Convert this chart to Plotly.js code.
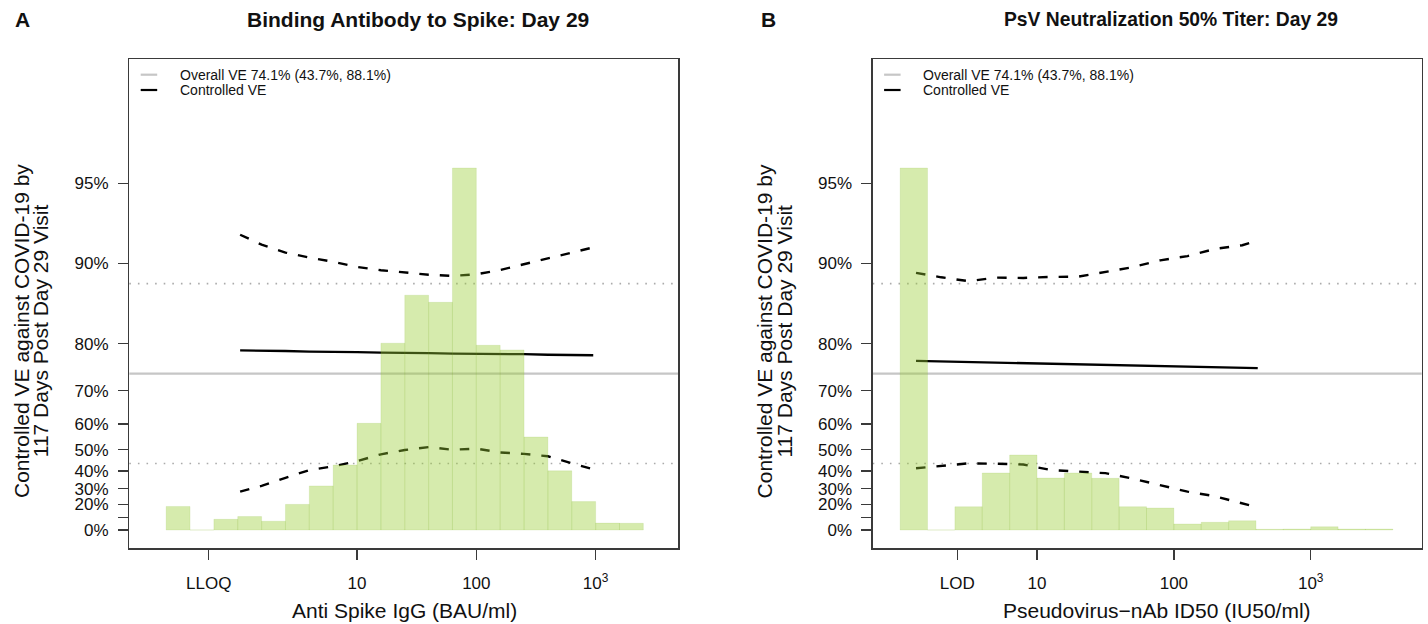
<!DOCTYPE html>
<html>
<head>
<meta charset="utf-8">
<script src="https://cdn.plot.ly/plotly-3.0.1.min.js"></script>
<style>
  html, body { margin: 0; padding: 0; background: #fff; }
  #chart { width: 1428px; height: 624px; }
</style>
</head>
<body>
<div id="chart"></div>
<script>
// ---- Panel A: binding antibody to Spike, Day 29 (marker on log10 BAU/ml) ----
const spikeLog10 = [0.02, 0.2, 0.4, 0.6, 0.8, 1.0, 1.2, 1.4, 1.6, 1.8, 2.0, 2.2, 2.4, 2.6, 2.8, 2.98];
const spikeVE      = [78.8, 78.8, 78.7, 78.6, 78.6, 78.5, 78.4, 78.4, 78.3, 78.2, 78.2, 78.1, 78.1, 78.0, 77.9, 77.9];
const spikeVEUpper = [92.2, 91.5, 90.9, 90.5, 90.15, 89.7, 89.4, 89.17, 88.98, 88.87, 89.02, 89.42, 89.94, 90.43, 90.93, 91.3];
const spikeVELower = [28.2, 31.7, 36.3, 40.4, 42.3, 44.85, 48.0, 49.9, 51.15, 50.0, 50.5, 48.8, 48.2, 47.1, 43.8, 40.8];
const spikeBinStart = [-0.6, -0.4, -0.2, 0.0, 0.2, 0.4, 0.6, 0.8, 1.0, 1.2, 1.4, 1.6, 1.8, 2.0, 2.2, 2.4, 2.6, 2.8, 3.0, 3.2];
const spikeBinPct   = [1.26, 0, 0.57, 0.72, 0.47, 1.37, 2.36, 3.48, 5.71, 10.0, 12.57, 12.19, 19.38, 9.89, 9.64, 4.98, 3.17, 1.52, 0.37, 0.36];
const spikeLLOQ = 0.571;

// ---- Panel B: pseudovirus neutralization ID50, Day 29 (marker on log10 IU50/ml) ----
const id50Log10 = [0.116, 0.3, 0.5, 0.7, 0.9, 1.1, 1.3, 1.5, 1.7, 1.9, 2.1, 2.3, 2.5, 2.613];
const id50VE      = [76.8, 76.7, 76.6, 76.5, 76.4, 76.2, 76.1, 76.0, 75.9, 75.8, 75.6, 75.5, 75.4, 75.3];
const id50VEUpper = [89.15, 88.73, 88.35, 88.7, 88.67, 88.77, 88.79, 89.25, 89.68, 90.27, 90.62, 91.18, 91.46, 91.8];
const id50VELower = [41.35, 42.4, 43.78, 43.6, 43.2, 40.45, 39.7, 38.8, 35.85, 32.0, 28.2, 25.3, 20.7, 17.7];
const id50BinStart = [0.0, 0.2, 0.4, 0.6, 0.8, 1.0, 1.2, 1.4, 1.6, 1.8, 2.0, 2.2, 2.4, 2.6, 2.8, 3.0, 3.2, 3.4];
const id50BinPct   = [48.06, 0, 3.09, 7.57, 9.96, 6.90, 7.57, 6.86, 3.09, 2.92, 0.80, 1.02, 1.23, 0.09, 0.13, 0.44, 0.13, 0.13];
const id50LOD = 2.612;

// ---- Overall vaccine efficacy (shared by both panels) ----
const overallVE = 74.1;
const overallLo = 43.7;
const overallHi = 88.1;

// ---- Axis ticks ----
const veTicks    = [0, 10, 20, 30, 40, 50, 60, 70, 80, 90, 95];
const veTickText = ['0%', '', '20%', '30%', '40%', '50%', '60%', '70%', '80%', '90%', '95%'];
const decadeTicks = [1, 2, 3];
const decadeText  = ['10', '100', '10<sup>3</sup>'];

// ---- Drawing ----
const W = 1428, H = 624;
const FONT = 'Liberation Sans, Arial, sans-serif';
const px = v => v / W;            // pixel -> paper x
const py = v => 1 - v / H;        // pixel -> paper y

// VE is plotted on the cumulative-hazard scale -log(1 - VE)
const haz = v => -Math.log(1 - v / 100);

const yRange = [-0.1581, 4.0691];
const histPeak = 3.1274;          // tallest bin reaches this height on the VE axis
const yDomain = [py(548.3), py(59)];
const panels = [
  { xa: 'x', ya: 'y', ha: 'y3', xDom: [px(129.3), px(678.3)], xRange: [-0.909, 3.693],
    grid: spikeLog10, ve: spikeVE, up: spikeVEUpper, lo: spikeVELower,
    bins: spikeBinStart, pct: spikeBinPct, limit: spikeLLOQ, limitName: 'LLOQ' },
  { xa: 'x2', ya: 'y2', ha: 'y4', xDom: [px(872.7), px(1421.7)], xRange: [-0.2006, 3.811],
    grid: id50Log10, ve: id50VE, up: id50VEUpper, lo: id50VELower,
    bins: id50BinStart, pct: id50BinPct, limit: id50LOD, limitName: 'LOD' }
];

const traces = [];
const layout = {
  width: W, height: H,
  margin: { l: 0, r: 0, t: 0, b: 0 },
  paper_bgcolor: '#fff', plot_bgcolor: 'rgba(0,0,0,0)',
  showlegend: false,
  font: { family: FONT, color: '#111', size: 17 },
  shapes: [], annotations: []
};

const axisStyle = {
  showgrid: false, zeroline: false,
  showline: true, mirror: true, linecolor: '#3a3a3a', linewidth: 1.3,
  ticks: 'outside', ticklen: 10, tickwidth: 1.3, tickcolor: '#3a3a3a',
  tickfont: { family: FONT, size: 17, color: '#111' },
  fixedrange: true
};

panels.forEach((p, i) => {
  const sfx = i === 0 ? '' : '2';
  const hsfx = i === 0 ? '3' : '4';
  const binW = p.bins[1] - p.bins[0];

  // confidence band (dashed) and controlled VE curve (solid)
  [p.up, p.lo].forEach(arr => traces.push({
    type: 'scatter', mode: 'lines', xaxis: p.xa, yaxis: p.ya,
    x: p.grid, y: arr.map(haz),
    line: { color: '#000', width: 2.4, dash: '9.5px,11px' }, hoverinfo: 'skip'
  }));
  traces.push({
    type: 'scatter', mode: 'lines', xaxis: p.xa, yaxis: p.ya,
    x: p.grid, y: p.ve.map(haz),
    line: { color: '#000', width: 2.3 }, hoverinfo: 'skip'
  });

  // marker distribution, drawn translucent over the curves
  traces.push({
    type: 'bar', xaxis: p.xa, yaxis: p.ha,
    x: p.bins.map(b => b + binW / 2), y: p.pct, width: binW,
    marker: { color: 'rgba(153,204,51,0.4)', line: { color: 'rgba(120,175,40,0.22)', width: 0.6 } },
    hoverinfo: 'skip'
  });

  const k = Math.max(...p.pct) / histPeak;

  layout['xaxis' + sfx] = Object.assign({}, axisStyle, {
    domain: p.xDom, range: p.xRange, anchor: p.ya,
    tickmode: 'array',
    tickvals: [Math.log10(p.limit)].concat(decadeTicks),
    ticktext: [p.limitName].concat(decadeText),
    ticklabelstandoff: 9
  });
  layout['yaxis' + sfx] = Object.assign({}, axisStyle, {
    domain: yDomain, range: yRange, anchor: p.xa,
    tickmode: 'array', tickvals: veTicks.map(haz), ticktext: veTickText,
    ticklabelstandoff: 6
  });
  layout['yaxis' + hsfx] = {
    overlaying: p.ya, anchor: p.xa, visible: false, fixedrange: true,
    range: [yRange[0] * k, yRange[1] * k]
  };

  // overall VE and its confidence limits
  const xd = p.xa + ' domain';
  layout.shapes.push({ type: 'line', layer: 'below', xref: xd, yref: p.ya, x0: 0, x1: 1,
    y0: haz(overallVE), y1: haz(overallVE), line: { color: '#c6c6c6', width: 2.2 } });
  [overallLo, overallHi].forEach(v => layout.shapes.push({
    type: 'line', layer: 'below', xref: xd, yref: p.ya, x0: 0, x1: 1,
    y0: haz(v), y1: haz(v), line: { color: '#ababab', width: 1.6, dash: '1.6px,7px' }
  }));

  // key inside the panel (short filled bars as line samples)
  const off = i === 0 ? 0 : 743.4;
  const keys = [
    { color: '#c6c6c6', y: 74.7, text: `Overall VE ${overallVE.toFixed(1)}% (${overallLo.toFixed(1)}%, ${overallHi.toFixed(1)}%)` },
    { color: '#000', y: 90, text: 'Controlled VE' }
  ];
  keys.forEach(kk => {
    layout.shapes.push({ type: 'rect', xref: 'paper', yref: 'paper',
      x0: px(140.7 + off), x1: px(157.2 + off), y0: py(kk.y + 1.1), y1: py(kk.y - 1.1),
      fillcolor: kk.color, line: { width: 0 } });
    layout.annotations.push({ xref: 'paper', yref: 'paper', x: px(178 + off), y: py(kk.y),
      xanchor: 'left', yanchor: 'middle', showarrow: false, text: kk.text,
      font: { family: FONT, size: 14, color: '#111' } });
  });

  // y-axis title (two lines)
  ['Controlled VE against COVID-19 by', '117 Days Post Day 29 Visit'].forEach((t, j) => {
    layout.annotations.push({ xref: 'paper', yref: 'paper',
      x: px((j === 0 ? 21 : 40.2) + off), y: py(331), xanchor: 'center', yanchor: 'middle',
      textangle: -90, showarrow: false, text: t,
      font: { family: FONT, size: 21, color: '#111' } });
  });
});

// panel titles, letters and x-axis titles
const texts = [
  { x: 23, y: 19, t: 'A', bold: true, size: 21 },
  { x: 418, y: 19, t: 'Binding Antibody to Spike: Day 29', bold: true, size: 21 },
  { x: 768, y: 19, t: 'B', bold: true, size: 21 },
  { x: 1171, y: 19, t: 'PsV Neutralization 50% Titer: Day 29', bold: true, size: 19.3 },
  { x: 404, y: 610, t: 'Anti Spike IgG (BAU/ml)', bold: false, size: 21 },
  { x: 1157, y: 610, t: 'Pseudovirus\u2212nAb ID50 (IU50/ml)', bold: false, size: 21 }
];
texts.forEach(o => layout.annotations.push({
  xref: 'paper', yref: 'paper', x: px(o.x), y: py(o.y), xanchor: 'center', yanchor: 'middle',
  showarrow: false, text: o.t,
  font: { family: FONT, size: o.size, color: '#111', weight: o.bold ? 'bold' : 'normal' }
}));

Plotly.newPlot('chart', traces, layout, { displayModeBar: false, staticPlot: true });
</script>
</body>
</html>
